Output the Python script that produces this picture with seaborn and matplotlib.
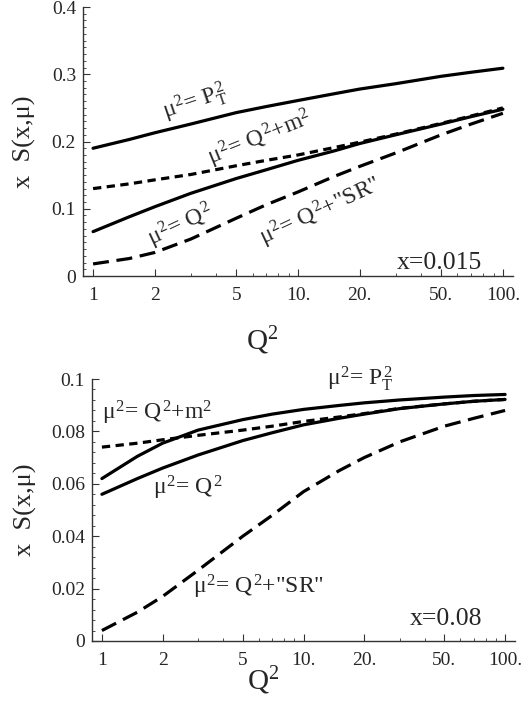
import numpy as np
import pandas as pd
import matplotlib
matplotlib.use("Agg")
import matplotlib.pyplot as plt
import matplotlib.ticker as mticker
import seaborn as sns

# Q^2 grid shared by all curves
q2 = [1, 1.5, 2, 3, 5, 7, 10, 15, 20, 30, 50, 70, 100]

# x = 0.015 panel
top_pt2 = [0.190, 0.203, 0.213, 0.226, 0.243, 0.252, 0.261, 0.271, 0.278, 0.286, 0.297, 0.303, 0.309]
top_q2m2 = [0.130, 0.137, 0.143, 0.151, 0.164, 0.172, 0.180, 0.191, 0.199, 0.211, 0.227, 0.238, 0.250]
top_q2 = [0.066, 0.088, 0.103, 0.123, 0.145, 0.158, 0.172, 0.186, 0.197, 0.210, 0.226, 0.237, 0.248]
top_sr = [0.018, 0.026, 0.035, 0.055, 0.086, 0.106, 0.125, 0.148, 0.163, 0.183, 0.210, 0.226, 0.242]

# x = 0.08 panel
bot_pt2 = [0.0620, 0.0705, 0.0755, 0.0805, 0.0845, 0.0866, 0.0884, 0.0899, 0.0909, 0.0920, 0.0931, 0.0937, 0.0941]
bot_q2m2 = [0.0740, 0.0755, 0.0768, 0.0785, 0.0805, 0.0820, 0.0838, 0.0855, 0.0868, 0.0888, 0.0905, 0.0915, 0.0922]
bot_q2 = [0.0560, 0.0620, 0.0660, 0.0710, 0.0765, 0.0795, 0.0825, 0.0850, 0.0866, 0.0887, 0.0905, 0.0915, 0.0922]
bot_sr = [0.0040, 0.0110, 0.0170, 0.0270, 0.0400, 0.0480, 0.0570, 0.0650, 0.0700, 0.0760, 0.0820, 0.0850, 0.0880]

x_major = [1, 2, 5, 10, 20, 50, 100]
x_major_labels = ["1", "2", "5", "10.", "20.", "50.", "100."]
x_minor = [3, 4, 6, 7, 8, 9, 30, 40, 60, 70, 80, 90]

sns.set_theme(style="ticks")
plt.rcParams['font.family'] = ['Liberation Serif', 'DejaVu Serif']
plt.rcParams['mathtext.fontset'] = 'custom'
plt.rcParams['mathtext.rm'] = 'Liberation Serif'
plt.rcParams['mathtext.it'] = 'Liberation Serif'
plt.rcParams['mathtext.bf'] = 'Liberation Serif:bold'

fig = plt.figure(figsize=(5.21, 7.02), dpi=100)
ax1 = fig.add_axes([0.1593, 0.6068, 0.8253, 0.3832])
ax2 = fig.add_axes([0.1766, 0.0869, 0.8119, 0.3732])

solid = '-'
dotted = (0, (2.6, 1.7))
dashed = (0, (5.0, 2.4))
lw = 2.3


def draw_panel(ax, pt2, q2m2, q2v, sr):
    df = pd.DataFrame({'Q2': q2, 'pt2': pt2, 'q2m2': q2m2, 'q2': q2v, 'sr': sr})
    sns.lineplot(data=df, x='Q2', y='pt2', ax=ax, color='black', lw=lw, linestyle=solid)
    sns.lineplot(data=df, x='Q2', y='q2m2', ax=ax, color='black', lw=lw, linestyle=dotted)
    sns.lineplot(data=df, x='Q2', y='q2', ax=ax, color='black', lw=lw, linestyle=solid)
    sns.lineplot(data=df, x='Q2', y='sr', ax=ax, color='black', lw=lw, linestyle=dashed)
    ax.set_xscale('log')
    ax.set_xlim(0.893, 112)
    ax.xaxis.set_major_locator(mticker.FixedLocator(x_major))
    ax.xaxis.set_major_formatter(mticker.FixedFormatter(x_major_labels))
    ax.xaxis.set_minor_locator(mticker.FixedLocator(x_minor))
    ax.xaxis.set_minor_formatter(mticker.NullFormatter())
    ax.tick_params(which='both', direction='in', color='#333333', labelsize=14)
    ax.tick_params(which='major', length=5, width=0.8)
    ax.tick_params(which='minor', length=2.5, width=0.6)
    ax.tick_params(axis='x', pad=8)
    ax.tick_params(axis='y', pad=5)
    for s in ['top', 'right']:
        ax.spines[s].set_visible(False)
    for s in ['left', 'bottom']:
        ax.spines[s].set_linewidth(1.0)
        ax.spines[s].set_color('#333333')
    ax.grid(False)
    ax.set_xlabel(r'Q$^2$', fontsize=21, va='top')
    ax.set_ylabel(r'x  S(x,μ)', fontsize=19, va='center')


draw_panel(ax1, top_pt2, top_q2m2, top_q2, top_sr)
ax1.set_ylim(0, 0.4)
ax1.yaxis.set_major_locator(mticker.FixedLocator([0, 0.1, 0.2, 0.3, 0.4]))
ax1.yaxis.set_major_formatter(mticker.FixedFormatter(["0", "0.1", "0.2", "0.3", "0.4"]))
ax1.yaxis.set_minor_locator(mticker.MultipleLocator(0.01))
ax1.xaxis.set_label_coords(0.416, -0.18)
ax1.yaxis.set_label_coords(-0.135, 0.5)

fs = 17
ax1.text(3.15, 0.259, r'$\mu^2$= $P_T^2$', fontsize=fs, rotation=18.5, ha='center', va='center')
ax1.text(6.53, 0.2054, r'$\mu^2$= $Q^2$+m$^2$', fontsize=fs, rotation=22, ha='center', va='center')
ax1.text(2.66, 0.0744, r'$\mu^2$= $Q^2$', fontsize=fs, rotation=25, ha='center', va='center')
ax1.text(12.8, 0.0952, r'$\mu^2$= $Q^2$+"SR"', fontsize=fs, rotation=25, ha='center', va='center')
ax1.text(0.928, 0.026, 'x=0.015', fontsize=18.5, ha='right', va='baseline', transform=ax1.transAxes)

draw_panel(ax2, bot_pt2, bot_q2m2, bot_q2, bot_sr)
ax2.set_ylim(0, 0.1)
ax2.yaxis.set_major_locator(mticker.FixedLocator([0, 0.02, 0.04, 0.06, 0.08, 0.1]))
ax2.yaxis.set_major_formatter(mticker.FixedFormatter(["0", "0.02", "0.04", "0.06", "0.08", "0.1"]))
ax2.yaxis.set_minor_locator(mticker.MultipleLocator(0.004))
ax2.xaxis.set_label_coords(0.404, -0.09)
ax2.yaxis.set_label_coords(-0.158, 0.5)

ax2.text(19.1, 0.1000, r'$\mu^2$= $P_T^2$', fontsize=fs, ha='center', va='center')
ax2.text(1.875, 0.0870, r'$\mu^2$= $Q^2$+m$^2$', fontsize=fs, ha='center', va='center')
ax2.text(2.67, 0.0584, r'$\mu^2$= $Q^2$', fontsize=fs, ha='center', va='center')
ax2.text(6.01, 0.0206, r'$\mu^2$= $Q^2$+"SR"', fontsize=fs, ha='center', va='center')
ax2.text(0.922, 0.061, 'x=0.08', fontsize=18.5, ha='right', va='baseline', transform=ax2.transAxes)

fig.savefig('out.png', dpi=100)
